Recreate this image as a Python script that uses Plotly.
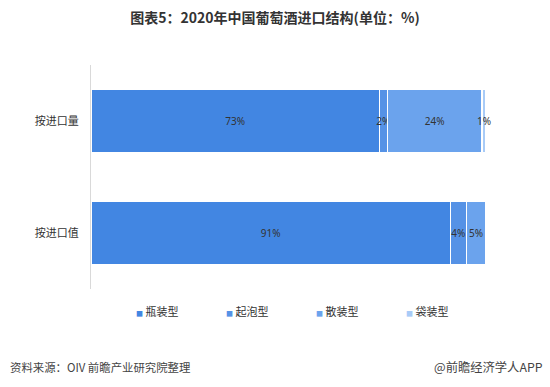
import plotly.graph_objects as go

categories = ["按进口量", "按进口值"]
series_names = ["瓶装型", "起泡型", "散装型", "袋装型"]
series_values = [
    [73, 91],
    [2, 4],
    [24, 5],
    [1, 0],
]
colors = ["#4286E2", "#5592E6", "#6BA3ED", "#A8CBF7"]
title_text = "图表5：2020年中国葡萄酒进口结构(单位：%)"
source_text = "资料来源：OIV 前瞻产业研究院整理"
brand_text = "@前瞻经济学人APP"

CJK = "Noto Sans CJK SC, Noto Sans, sans-serif"

fig = go.Figure()
for name, vals, c in zip(series_names, series_values, colors):
    xs = [v if v > 0 else None for v in vals]
    fig.add_trace(go.Bar(
        y=categories, x=xs, orientation="h", name=name,
        marker=dict(color=c, line=dict(color="white", width=1.5)),
        text=[f"{v}%" if v else "" for v in vals],
        textposition="inside", insidetextanchor="middle", textangle=0,
        textfont=dict(size=10, color="#333333", family="Noto Sans, sans-serif"),
        showlegend=False, width=0.57, hoverinfo="skip",
        cliponaxis=False,
    ))
    # legend entry with small square glyph
    fig.add_trace(go.Scatter(
        x=[None], y=[None], mode="markers",
        marker=dict(size=0.1, color="rgba(0,0,0,0)"),
        name=f"<span style='color:{c};font-size:7px'>■</span> {name}",
        showlegend=True, hoverinfo="skip",
    ))

fig.update_layout(
    width=550, height=387,
    margin=dict(l=91, r=64, t=65, b=98),
    paper_bgcolor="white", plot_bgcolor="white",
    barmode="stack",
    bargap=0.43,
    uniformtext=dict(minsize=10, mode="show"),
    title=dict(text=f"<b>{title_text}</b>", x=0.5, xanchor="center",
               y=1 - 18 / 387, yanchor="middle",
               font=dict(size=14, color="#333333", family=CJK)),
    xaxis=dict(range=[0, 100], visible=False, fixedrange=True),
    yaxis=dict(autorange="reversed", showline=True, linecolor="#D9D9D9",
               linewidth=1, showgrid=False, zeroline=False, ticks="",
               ticklabelstandoff=9, fixedrange=True,
               tickfont=dict(size=11, color="#333333", family=CJK)),
    legend=dict(orientation="h", x=(96 - 91) / 395, xanchor="left",
                y=-(312 - 289) / 224, yanchor="middle",
                traceorder="normal",
                entrywidth=45, entrywidthmode="pixels",
                font=dict(size=11, color="#333333", family=CJK),
                bgcolor="rgba(0,0,0,0)"),
    annotations=[
        dict(text=source_text, x=8, y=367, xref="paper", yref="paper",
             showarrow=False, xanchor="left", yanchor="middle",
             font=dict(size=11.4, color="#444444", family=CJK)),
        dict(text=brand_text, x=545, y=367, xref="paper", yref="paper",
             showarrow=False, xanchor="right", yanchor="middle",
             font=dict(size=12.3, color="#444444", family=CJK)),
    ],
)
# convert pixel annotation coords to paper coords
pw, ph = 550 - 91 - 64, 387 - 65 - 98
for a in fig.layout.annotations:
    a.x = (a.x - 91) / pw
    a.y = (387 - 98 - a.y) / ph

fig.write_html("out.html", config={"displayModeBar": False},
               post_script="document.body.style.margin='0';document.body.style.overflow='hidden';")
